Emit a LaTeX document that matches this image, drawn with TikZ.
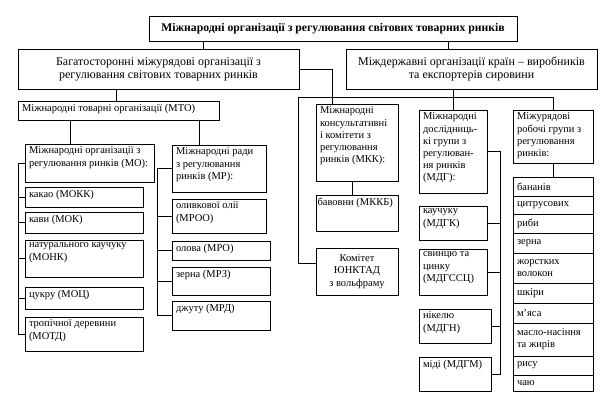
\documentclass[tikz,border=0pt]{standalone}
\usepackage{fontspec}
\setmainfont{Liberation Serif}
\tikzset{kor/.style={draw, line width=0.9pt, inner xsep=4pt, inner ysep=3pt, outer sep=0pt, anchor=north west}}
\newcommand{\kor}[7][t]{\node[kor] (#2) at (#3,#4) {\parbox[c][\dimexpr#6pt-6pt\relax][#1]{\dimexpr#5pt-8pt\relax}{\raggedright#7}};}
\begin{document}
\begin{tikzpicture}[x=1pt, y=-1pt, line width=0.9pt, font=\fontsize{10.5}{12.2}\selectfont]
	\useasboundingbox (0,0) rectangle (600,402);
	\kor[c]{zag}{149}{16}{368}{25}{\centering\fontsize{11.7}{13}\selectfont\bfseries Міжнародні організації з регулювання світових товарних ринків}
	\kor[c]{bag}{18}{49}{281}{40}{\centering\fontsize{12}{13}\selectfont Багатосторонні міжурядові організації з\\ регулювання світових товарних ринків}
	\kor[c]{mizhd}{346}{49}{251}{40}{\centering\fontsize{12}{13}\selectfont Міждержавні організації країн – виробників\\ та експортерів сировини}
	\kor{mto}{18}{101}{201}{19}{Міжнародні товарні організації (МТО)}
	\kor{mo}{25}{144}{129}{38}{Міжнародні організації з\\ регулювання ринків (МО):}
	\kor{mokk}{25}{187}{118}{20}{какао (МОКК)}
	\kor{mok}{25}{212}{118}{21}{кави (МОК)}
	\kor{monk}{25}{240}{118}{37}{натурального каучуку\\ (МОНК)}
	\kor{moc}{25}{287}{118}{22}{цукру (МОЦ)}
	\kor{motd}{25}{317}{118}{34}{тропічної деревини\\ (МОТД)}
	\kor{mr}{172}{145}{94}{47}{Міжнародні ради\\ з регулювання\\ ринків (МР):}
	\kor{mroo}{172}{199}{94}{34}{оливкової олії\\ (МРОО)}
	\kor{mro}{172}{241}{98}{19}{олова (МРО)}
	\kor{mrz}{172}{267}{98}{28}{зерна (МРЗ)}
	\kor{mrd}{172}{301}{98}{29}{джуту (МРД)}
	\kor{mkk}{316}{104}{82}{77}{Міжнародні\\ консультативні\\ і комітети з\\ регулювання\\ ринків (МКК):}
	\kor{mkkb}{316}{195}{82}{36}{\hspace*{-2.5pt}\mbox{бавовни (МККБ)}}
	\kor[c]{unktad}{316}{248}{82}{47}{\centering Комітет\\ ЮНКТАД\\ з вольфраму}
	\kor{mdg}{419}{110}{68}{83}{Міжнародні\\ дослідниць-\\ кі групи з\\ регулюван-\\ ня ринків\\ (МДГ):}
	\kor{mdgk}{419}{206}{68}{34}{каучуку\\ (МДГК)}
	\kor{mdgssc}{419}{249}{68}{46}{свинцю та\\ цинку\\ (МДГССЦ)}
	\kor{mdgn}{419}{309}{72}{34}{нікелю\\ (МДГН)}
	\kor{mdgm}{419}{357}{72}{34}{міді (МДГМ)}
	\kor{mzhr}{513}{110}{80}{53}{Міжурядові\\ робочі групи з\\ регулювання\\ ринків:}
	\kor[c]{banany}{513}{177}{80}{19}{бананів}
	\kor[c]{cytrus}{513}{196}{80}{18}{цитрусових}
	\kor[c]{ryba}{513}{214}{80}{19}{риби}
	\kor[c]{zerno}{513}{233}{80}{20}{зерна}
	\kor[c]{volokno}{513}{253}{80}{30}{жорстких\\ волокон}
	\kor[c]{shkira}{513}{283}{80}{20}{шкіри}
	\kor[c]{miaso}{513}{303}{80}{20}{м'яса}
	\kor[c]{maslo}{513}{323}{80}{33}{масло-насіння\\ та жирів}
	\kor[c]{rys}{513}{356}{80}{19}{рису}
	\kor[c]{chai}{513}{375}{80}{16}{чаю}
	\coordinate (z1) at ([xshift=54pt]zag.south west);
	\coordinate (z2) at ([xshift=299pt]zag.south west);
	\coordinate (b1) at ([xshift=98pt]bag.south west);
	\coordinate (m1) at ([xshift=45pt]mo.north west);
	\coordinate (m2) at ([xshift=27pt]mr.north west);
	\coordinate (k1) at ([xshift=36pt]mkk.south west);
	\coordinate (shyna) at (298,97);
	\coordinate (mosp) at (18,0);
	\coordinate (mrsp) at (157,0);
	\coordinate (mdgsp) at (500,0);
	\draw (z1) -- (z1 |- bag.north);
	\draw (z2) -- (z2 |- mizhd.north);
	\draw (b1) -- (b1 |- mto.north);
	\draw (bag.east) -| ([xshift=16pt]mkk.north west);
	\draw (mizhd.south -| mdg.north) -- (mdg.north);
	\draw ([yshift=-15pt]unktad.north west) -| (shyna) -| (mzhr.north);
	\draw (m1 |- mto.south) -- (m1);
	\draw (m2 |- mto.south) -- (m2);
	\draw (mo.west) -- (mo.west -| mosp) |- (motd.west);
	\draw (mokk.west) -- (mokk.west -| mosp);
	\draw (mok.west) -- (mok.west -| mosp);
	\draw (monk.west) -- (monk.west -| mosp);
	\draw (moc.west) -- (moc.west -| mosp);
	\draw (mr.west) -- (mr.west -| mrsp) |- (mrd.west);
	\draw (mroo.west) -- (mroo.west -| mrsp);
	\draw (mro.west) -- (mro.west -| mrsp);
	\draw (mrz.west) -- (mrz.west -| mrsp);
	\draw (k1) -- (k1 |- mkkb.north);
	\draw (mdg.east) -- (mdg.east -| mdgsp) |- (mdgm.east);
	\draw (mdgk.east) -- (mdgk.east -| mdgsp);
	\draw (mdgssc.east) -- (mdgssc.east -| mdgsp);
	\draw (mdgn.east) -- (mdgn.east -| mdgsp);
	\draw (mzhr.south) -- (banany.north);
\end{tikzpicture}
\end{document}
